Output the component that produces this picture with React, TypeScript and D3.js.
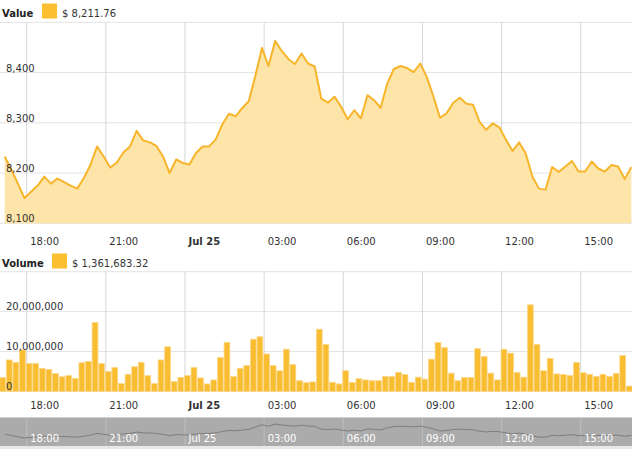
import React from "react";
import * as d3 from "d3";

const START = new Date(2018, 6, 24, 17, 10);
const STEP_MIN = 15;

const prices = [
  8233, 8207, 8179, 8150, 8163, 8175, 8193, 8179, 8189, 8182, 8175, 8169,
  8190, 8216, 8253, 8233, 8211, 8221, 8241, 8253, 8284, 8265, 8261, 8254,
  8233, 8200, 8227, 8220, 8217, 8240, 8253, 8253, 8267, 8297, 8318, 8313,
  8329, 8343, 8393, 8449, 8413, 8463, 8443, 8427, 8417, 8438, 8418, 8412,
  8348, 8340, 8352, 8332, 8307, 8325, 8309, 8355, 8345, 8330, 8378, 8407,
  8413, 8409, 8401, 8418, 8391, 8352, 8310, 8319, 8340, 8350, 8338, 8336,
  8302, 8286, 8299, 8291, 8266, 8244, 8261, 8239, 8193, 8169, 8167, 8212,
  8202, 8213, 8224, 8203, 8203, 8223, 8209, 8203, 8216, 8213, 8188, 8211.76,
];

const volumesM = [
  3.5, 7.9, 7.3, 10.4, 7.0, 7.0, 5.8, 5.5, 4.5, 3.7, 4.0, 3.3,
  7.2, 7.5, 17.3, 7.0, 5.0, 6.0, 2.0, 4.3, 6.2, 7.3, 4.0, 2.0,
  7.9, 11.2, 2.5, 3.5, 4.0, 6.0, 3.4, 1.9, 2.9, 8.5, 12.3, 3.75,
  5.8, 6.5, 13.1, 13.7, 9.4, 6.5, 5.2, 10.6, 6.75, 2.7, 2.2, 2.4,
  15.6, 11.8, 2.3, 1.9, 5.2, 2.3, 3.2, 2.9, 2.7, 2.7, 3.75, 3.75,
  4.8, 4.25, 2.3, 3.6, 3.1, 8.1, 12.3, 11.0, 4.6, 2.7, 3.5, 3.5,
  10.75, 8.75, 4.6, 2.9, 10.6, 9.6, 4.8, 3.6, 21.7, 11.8, 5.2, 8.3,
  4.4, 4.25, 4.0, 7.3, 4.7, 4.3, 3.75, 4.3, 3.8, 4.5, 9.0, 1.3617,
];

const priceTicks = [8100, 8200, 8300, 8400, 8500];
const volumeTicks = [0, 10000000, 20000000, 30000000];
const lastPrice = 8211.76;
const lastVolume = 1361683.32;

const W = 632;
const H = 449;
const FONT = "'DejaVu Sans', Verdana, sans-serif";
const GOLD = "#f7b52c";
const FILL = "#fde4a8";
const BAR = "#f9bd31";

export default function App() {
  const times = prices.map((_, i) => new Date(START.getTime() + i * STEP_MIN * 60000));
  const data = prices.map((p, i) => ({ t: times[i], p, v: volumesM[i] * 1e6 }));

  const x = d3.scaleTime().domain([times[0], times[times.length - 1]]).range([4.7, 631.3]);
  const yP = d3.scaleLinear().domain([8100, 8500]).range([223.3, 22.3]);
  const yV = d3.scaleLinear().domain([0, 30000000]).range([391.5, 271.7]);
  const yN = d3.scaleLinear().domain([7970, 8600]).range([446, 418]);

  const timeTicks = x.ticks(d3.timeHour.every(3) as any);
  const isMidnight = (d: Date) => d.getHours() === 0;
  const fmtTick = (d: Date) => (isMidnight(d) ? d3.timeFormat("%b %d")(d).replace(" 0", " ") : d3.timeFormat("%H:%M")(d));

  const line = d3.line<any>().x((d) => x(d.t)).y((d) => yP(d.p));
  const area = d3.area<any>().x((d) => x(d.t)).y0(yP(8100)).y1((d) => yP(d.p));
  const navLine = d3.line<any>().x((d) => x(d.t)).y((d) => yN(d.p));

  const fmtNum = d3.format(",");
  const fmtMoney = d3.format(",.2f");
  const step = x(times[1]) - x(times[0]);
  const barW = step - 0.8;

  return (
    <div style={{ position: "absolute", left: 0, top: 0 }}>
      <svg width={W} height={H} style={{ display: "block", fontFamily: FONT }}>
        <rect x={0} y={0} width={W} height={H} fill="#fff" />

        {/* Legend: Value */}
        <text x={2} y={17} fontSize={10} fontWeight="bold" fill="#222">Value</text>
        <rect x={42} y={3.5} width={15} height={15} fill="#fbbf2f" />
        <text x={62} y={17} fontSize={10} fill="#333">{"$ " + fmtMoney(lastPrice)}</text>

        {/* Price grid */}
        {priceTicks.map((t) => (
          <line key={"pg" + t} x1={0} x2={W} y1={yP(t)} y2={yP(t)} stroke="#e3e3e3" strokeWidth={1} />
        ))}
        {timeTicks.map((t, i) => (
          <line key={"pv" + i} x1={x(t)} x2={x(t)} y1={yP(8500)} y2={yP(8100)} stroke="#d6d6d6" strokeWidth={1} />
        ))}
        <path d={area(data) || ""} fill={FILL} />
        <path d={line(data) || ""} fill="none" stroke={GOLD} strokeWidth={2} strokeLinejoin="round" />
        {priceTicks.filter((t) => t < 8500).map((t) => (
          <text key={"pl" + t} x={6} y={yP(t) - 1} fontSize={10} fill="#333">{fmtNum(t)}</text>
        ))}
        {timeTicks.map((t, i) => (
          <text key={"px" + i} x={x(t) + 3.5} y={244.6} fontSize={10} fill="#333" fontWeight={isMidnight(t) ? "bold" : "normal"}>{fmtTick(t)}</text>
        ))}

        {/* Legend: Volume */}
        <text x={2} y={266.7} fontSize={10} fontWeight="bold" fill="#222">Volume</text>
        <rect x={52} y={253.5} width={15} height={15} fill="#fbbf2f" />
        <text x={72} y={266.7} fontSize={10} fill="#333">{"$ " + fmtMoney(lastVolume)}</text>

        {/* Volume grid */}
        {volumeTicks.map((t) => (
          <line key={"vg" + t} x1={0} x2={W} y1={yV(t)} y2={yV(t)} stroke="#e3e3e3" strokeWidth={1} />
        ))}
        {timeTicks.map((t, i) => (
          <line key={"vv" + i} x1={x(t)} x2={x(t)} y1={yV(30000000)} y2={yV(0)} stroke="#d6d6d6" strokeWidth={1} />
        ))}
        {data.map((d, i) => (
          <rect key={"b" + i} x={x(d.t) - 2 - barW / 2} y={yV(d.v)} width={barW} height={yV(0) - yV(d.v)} fill={BAR} stroke="#fcd88c" strokeWidth={0.8} />
        ))}
        {volumeTicks.filter((t) => t < 30000000).map((t) => (
          <text key={"vl" + t} x={6} y={yV(t) - 1.5} fontSize={10} fill="#333">{fmtNum(t)}</text>
        ))}
        {timeTicks.map((t, i) => (
          <text key={"vx" + i} x={x(t) + 3.5} y={408.6} fontSize={10} fill="#333" fontWeight={isMidnight(t) ? "bold" : "normal"}>{fmtTick(t)}</text>
        ))}

        {/* Navigator */}
        <rect x={0} y={417} width={W} height={29} fill="#ababab" />
        <line x1={0} x2={W} y1={417.5} y2={417.5} stroke="#cfcfcf" />
        <rect x={0} y={446} width={W} height={3} fill="#e8e8e8" />
        {timeTicks.map((t, i) => (
          <line key={"nv" + i} x1={x(t)} x2={x(t)} y1={418} y2={446} stroke="#bdbdbd" strokeWidth={1} />
        ))}
        <path d={navLine(data) || ""} fill="none" stroke="#7d7d7d" strokeWidth={1} />
        {timeTicks.map((t, i) => (
          <text key={"nx" + i} x={x(t) + 3.5} y={441.6} fontSize={10} fill="#fff">{fmtTick(t)}</text>
        ))}
      </svg>
    </div>
  );
}
